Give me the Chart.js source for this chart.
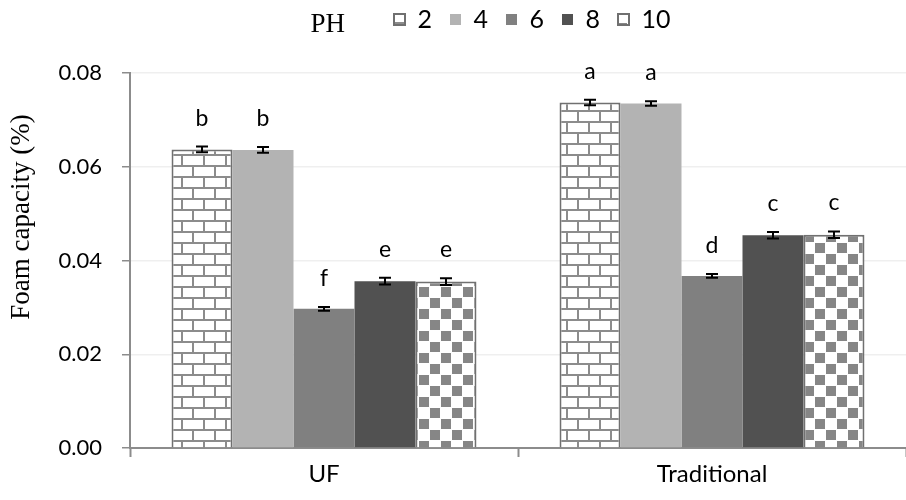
<!DOCTYPE html>
<html>
<head>
<meta charset="utf-8">
<script src="https://cdn.jsdelivr.net/npm/chart.js@4"></script>
<style>
  html, body { margin: 0; background: #fff; }
  #wrap { width: 906px; height: 500px; }
</style>
</head>
<body>
<div id="wrap"><canvas id="graficoEspuma"></canvas></div>
<script>
// ----------- DADOS -----------
const categorias = ["UF", "Traditional"];
const phNiveis = ["2", "4", "6", "8", "10"];

const ph2 = [0.0637, 0.0737];
const ph4 = [0.0636, 0.0735];
const ph6 = [0.0297, 0.0367];
const ph8 = [0.0356, 0.0454];
const ph10 = [0.0355, 0.0455];

const erro2 = [0.0006, 0.0006];
const erro4 = [0.0006, 0.0005];
const erro6 = [0.0004, 0.0004];
const erro8 = [0.0007, 0.0007];
const erro10 = [0.0007, 0.0007];

const letras2 = ["b", "a"];
const letras4 = ["b", "a"];
const letras6 = ["f", "d"];
const letras8 = ["e", "c"];
const letras10 = ["e", "c"];

const yTicks = [0, 0.02, 0.04, 0.06, 0.08];

// ----------- PADRÕES -----------
const canvas = document.getElementById("graficoEspuma");
const ctx = canvas.getContext("2d");

function padraoTijolo() {
  const c = document.createElement("canvas");
  c.width = 22; c.height = 22;
  const g = c.getContext("2d");
  g.fillStyle = "#ffffff";
  g.fillRect(0, 0, 22, 22);
  g.strokeStyle = "#8c8c8c";
  g.lineWidth = 2;
  g.beginPath();
  g.moveTo(0, 1); g.lineTo(22, 1);
  g.moveTo(0, 12); g.lineTo(22, 12);
  g.moveTo(6, 1); g.lineTo(6, 12);
  g.moveTo(17, 12); g.lineTo(17, 23);
  g.stroke();
  return ctx.createPattern(c, "repeat");
}

function padraoXadrez() {
  const c = document.createElement("canvas");
  c.width = 22; c.height = 22;
  const g = c.getContext("2d");
  g.fillStyle = "#ffffff";
  g.fillRect(0, 0, 22, 22);
  g.fillStyle = "#868686";
  g.fillRect(1, 1, 10, 10);
  g.fillRect(12, 12, 10, 10);
  return ctx.createPattern(c, "repeat");
}

const fonte = "Lato";

// barras de erro + letras
const erroPlugin = {
  id: "erroPlugin",
  afterDatasetsDraw(chart) {
    const c = chart.ctx;
    const y = chart.scales.y;
    chart.data.datasets.forEach((ds, i) => {
      const meta = chart.getDatasetMeta(i);
      meta.data.forEach((bar, j) => {
        const v = ds.data[j];
        const e = ds.erros[j];
        const yt = y.getPixelForValue(v + e);
        const yb = y.getPixelForValue(v - e);
        c.save();
        c.strokeStyle = "#000";
        c.lineWidth = 2;
        c.beginPath();
        c.moveTo(bar.x, yt); c.lineTo(bar.x, yb);
        c.moveTo(bar.x - 6, yt); c.lineTo(bar.x + 6, yt);
        c.moveTo(bar.x - 6, yb); c.lineTo(bar.x + 6, yb);
        c.stroke();
        c.fillStyle = "#000";
        c.font = "23px " + fonte;
        c.textAlign = "center";
        c.textBaseline = "alphabetic";
        c.fillText(ds.letras[j], bar.x, yt - 21);
        c.restore();
      });
    });
  }
};

// legenda deslocada + "PH" + título do eixo Y
const textoPlugin = {
  id: "textoPlugin",
  afterInit(chart) {
    const lg = chart.legend;
    const fitOrig = lg.fit.bind(lg);
    lg.fit = function () { fitOrig(); this.height = 73; };
  },
  afterLayout(chart) {
    chart.legend.top -= 11;
    chart.legend.bottom -= 11;
  },
  afterUpdate(chart) {
    const lg = chart.legend;
    const dx = 394 - lg.legendHitBoxes[0].left;
    lg.left += dx;
    lg.right += dx;
    lg.adjustHitBoxes();
  },
  afterDraw(chart) {
    const c = chart.ctx;
    const hb = chart.legend.legendHitBoxes[0];
    c.save();
    c.fillStyle = "#000";
    c.font = "27px 'Liberation Serif'";
    c.textAlign = "right";
    c.textBaseline = "alphabetic";
    c.fillText("PH", hb.left - 49, 32);
    c.translate(22, 217);
    c.rotate(-Math.PI / 2);
    c.font = "27px 'Liberation Serif'";
    c.textAlign = "center";
    c.textBaseline = "middle";
    c.fillText("Foam capacity (%)", 0, 0);
    c.restore();
  }
};

new Chart(canvas, {
  type: "bar",
  data: {
    labels: categorias,
    datasets: [
      { label: phNiveis[0], data: ph2, erros: erro2, letras: letras2,
        backgroundColor: padraoTijolo(), borderColor: "#707070", borderWidth: 2 },
      { label: phNiveis[1], data: ph4, erros: erro4, letras: letras4,
        backgroundColor: "#b3b3b3", borderWidth: 0 },
      { label: phNiveis[2], data: ph6, erros: erro6, letras: letras6,
        backgroundColor: "#808080", borderWidth: 0 },
      { label: phNiveis[3], data: ph8, erros: erro8, letras: letras8,
        backgroundColor: "#515151", borderWidth: 0 },
      { label: phNiveis[4], data: ph10, erros: erro10, letras: letras10,
        backgroundColor: padraoXadrez(), borderColor: "#707070", borderWidth: 2 }
    ]
  },
  options: {
    responsive: true,
    maintainAspectRatio: false,
    animation: false,
    layout: { padding: 0 },
    datasets: { bar: { categoryPercentage: 0.786, barPercentage: 1 } },
    plugins: {
      legend: {
        position: "top",
        labels: {
          color: "#000",
          font: { family: fonte, size: 25 },
          boxWidth: 11,
          boxHeight: 11,
          padding: 18
        }
      },
      tooltip: { enabled: false }
    },
    scales: {
      x: {
        afterFit(s) { s.height = 52; },
        grid: { offset: true, drawOnChartArea: false, drawTicks: true,
                tickLength: 9, tickColor: "#8c8c8c", tickWidth: 2 },
        border: { color: "#8c8c8c", width: 2 },
        ticks: { color: "#000", font: { family: fonte, size: 24 }, padding: 3 }
      },
      y: {
        min: 0,
        max: 0.08,
        afterFit(s) { s.width = 130; },
        afterBuildTicks(s) { s.ticks = yTicks.map(v => ({ value: v })); },
        grid: { color: "#efefef", lineWidth: 1.5, tickLength: 8,
                tickColor: "#8c8c8c", tickWidth: 1.5 },
        border: { color: "#8c8c8c", width: 2 },
        ticks: {
          color: "#000",
          font: { family: fonte, size: 22 },
          padding: 20,
          callback: v => v.toFixed(2)
        }
      }
    }
  },
  plugins: [erroPlugin, textoPlugin]
});
</script>
</body>
</html>
